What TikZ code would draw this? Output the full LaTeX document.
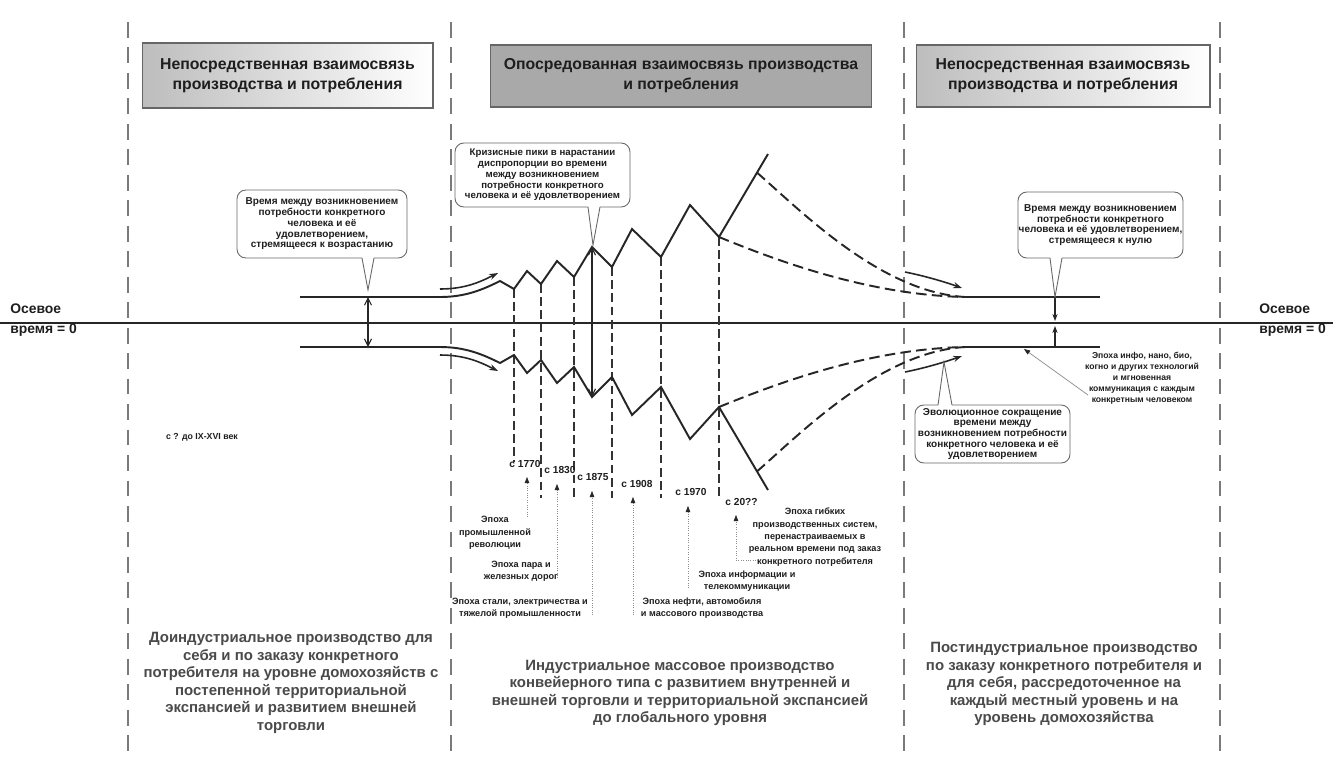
\documentclass[tikz,border=0pt]{standalone}
\usepackage{fontspec}
\setmainfont{Liberation Sans}
\usetikzlibrary{arrows.meta}
\definecolor{txt}{HTML}{1E1E1E}
\definecolor{secgray}{HTML}{7A7A7A}
\definecolor{botgray}{HTML}{4A4A4A}
\definecolor{hdrmid}{HTML}{A9A9A9}
\definecolor{hdrside}{HTML}{BDBDBD}
\definecolor{framegray}{HTML}{666666}
\begin{document}
\begin{tikzpicture}[x=0.02cm,y=-0.02cm,
  every node/.style={inner sep=0pt, text=txt},
  secline/.style={draw=secgray, line width=0.9pt, dash pattern=on 9pt off 5.5pt},
  epochline/.style={draw=black!80, line width=0.8pt, dash pattern=on 5pt off 2.5pt},
  bandline/.style={draw=black!85, line width=1.1pt, line join=miter},
  dashcurve/.style={draw=black!85, line width=1.1pt, dash pattern=on 6pt off 3pt},
  flowarrow/.style={draw=black!85, line width=0.9pt, -{Stealth[length=5pt,width=3.5pt]}},
  gaparrow/.style={draw=black!85, line width=0.6pt, {Straight Barb[length=4pt,width=4pt]}-{Straight Barb[length=4pt,width=4pt]}},
  toaxis/.style={draw=black!85, line width=0.6pt, -{Stealth[length=4pt,width=3pt]}},
  hdr/.style={draw=framegray, line width=0.6pt, align=center, font=\bfseries\fontsize{9}{11.3}\selectfont},
  callout/.style={draw=framegray, fill=white, rounded corners=5pt, line width=0.5pt, align=center, font=\bfseries\fontsize{5.7}{6.1}\selectfont},
  ptrline/.style={draw=framegray, line width=0.5pt},
  epochlabel/.style={align=center, font=\bfseries\fontsize{5.2}{7}\selectfont},
  datelabel/.style={anchor=west, font=\bfseries\fontsize{5.8}{7}\selectfont},
  leader/.style={draw=black!45, line width=0.35pt, densely dotted},
  leadtip/.style={-{Triangle[length=3.5pt,width=2.6pt,color=black!85]}},
  axislabel/.style={anchor=west, align=left, font=\bfseries\fontsize{7.9}{11.4}\selectfont},
  bottomtext/.style={align=center, text=botgray, font=\bfseries\fontsize{8.5}{10}\selectfont},
]
\useasboundingbox[fill=white] (0,0) rectangle (1333,765);

% section separators
\coordinate (s1t) at (128,22);  \coordinate (s1b) at (128,752);
\coordinate (s2t) at (451,22);  \coordinate (s2b) at (451,752);
\coordinate (s3t) at (904,22);  \coordinate (s3b) at (904,752);
\coordinate (s4t) at (1220,22); \coordinate (s4b) at (1220,752);
\draw[secline] (s1t) -- (s1b);
\draw[secline] (s2t) -- (s2b);
\draw[secline] (s3t) -- (s3b);
\draw[secline] (s4t) -- (s4b);

% headers
\node[hdr, minimum width=5.82cm, minimum height=1.3cm, left color=hdrside, right color=white] (h1) at (287.5,75.5)
  {Непосредственная взаимосвязь\\производства и потребления};
\node[hdr, minimum width=7.64cm, minimum height=1.24cm, fill=hdrmid] (h2) at (681,76)
  {Опосредованная взаимосвязь производства\\и потребления};
\node[hdr, minimum width=5.88cm, minimum height=1.24cm, left color=hdrside, right color=white] (h3) at (1063,76)
  {Непосредственная взаимосвязь\\производства и потребления};

% axis
\coordinate (axL) at (0,323); \coordinate (axR) at (1333,323);
\draw[black!85, line width=0.7pt] (axL) -- (axR);
\node[axislabel] (al) at (10,320) {Осевое\\время = 0};
\node[axislabel] (ar) at (1259,320) {Осевое\\время = 0};

% epoch dashed lines
\draw[epochline] (514,289) -- (514,462);
\draw[epochline] (541,284) -- (541,498);
\draw[epochline] (574,277) -- (574,498);
\draw[epochline] (612,267) -- (612,498);
\draw[epochline] (661,257) -- (661,498);
\draw[epochline] (719,237) -- (719,500);

% bands
\draw[bandline] (300,297) -- (440,297) .. controls (465,297) and (482,290) .. (500,281)
  -- (514,289) -- (527,271) -- (541,284) -- (557,261) -- (574,277) -- (592,247)
  -- (612,267) -- (632,229) -- (661,257) -- (690,205) -- (719,237) -- (768,154);
\draw[bandline] (300,347) -- (440,347) .. controls (465,347) and (482,354) .. (500,363)
  -- (514,355) -- (527,373) -- (541,360) -- (557,383) -- (574,367) -- (592,397)
  -- (612,377) -- (632,415) -- (661,387) -- (690,439) -- (719,407) -- (768,490);
\draw[dashcurve] (757,172.6) .. controls (800,210) and (880,292) .. (965,297);
\draw[dashcurve] (719,237) .. controls (780,262) and (870,295) .. (965,297);
\draw[dashcurve] (757,471.4) .. controls (800,434) and (880,352) .. (965,347);
\draw[dashcurve] (719,407) .. controls (780,382) and (870,349) .. (965,347);
\draw[bandline] (965,297) -- (1100,297);
\draw[bandline] (965,347) -- (1100,347);

% flow arrows
\draw[flowarrow] (440,289) .. controls (465,289) and (480,282) .. (498,273);
\draw[flowarrow] (440,355) .. controls (465,355) and (480,362) .. (498,371);
\draw[flowarrow] (905,272) .. controls (925,276) and (945,282) .. (962,288);
\draw[flowarrow] (905,372) .. controls (925,368) and (945,362) .. (962,356);

% gap arrows
\coordinate (gl1) at (368,297); \coordinate (gl2) at (368,347);
\draw[gaparrow] (gl1) -- (gl2);
\coordinate (gc1) at (592,247); \coordinate (gc2) at (592,397);
\draw[gaparrow] (gc1) -- (gc2);
\coordinate (gr1) at (1055,297); \coordinate (gr2) at (1055,347);
\coordinate (gr0) at (1055,321); \coordinate (gr3) at (1055,326);
\draw[toaxis] (gr1) -- (gr0);
\draw[toaxis] (gr2) -- (gr3);

% callouts
\node[callout, minimum width=3.4cm, minimum height=1.36cm] (c1) at (322,224)
  {Время между возникновением\\потребности конкретного\\человека и её\\удовлетворением,\\стремящееся к возрастанию};
\fill[white] (362,256.5) -- (368,290) -- (374,256.5) -- cycle;
\draw[ptrline] (362,258) -- (368,290) -- (374,258);

\node[callout, minimum width=3.5cm, minimum height=1.28cm, font=\bfseries\fontsize{5.5}{6.1}\selectfont] (c2) at (542.5,175)
  {Кризисные пики в нарастании\\диспропорции во времени\\между возникновением\\потребности конкретного\\человека и её удовлетворением};
\fill[white] (588,205.5) -- (593,245) -- (600,205.5) -- cycle;
\draw[ptrline] (588,207) -- (593,245) -- (600,207);

\node[callout, minimum width=3.3cm, minimum height=1.32cm] (c3) at (1100.5,225)
  {Время между возникновением\\потребности конкретного\\человека и её удовлетворением,\\стремящееся к нулю};
\fill[white] (1050,256.5) -- (1055,297) -- (1062,256.5) -- cycle;
\draw[ptrline] (1050,258) -- (1055,297) -- (1062,258);

\node[callout, minimum width=3.1cm, minimum height=1.16cm] (c4) at (992.5,434)
  {Эволюционное сокращение\\времени между\\возникновением потребности\\конкретного человека и её\\удовлетворением};
\fill[white] (938,406.5) -- (944,362) -- (952,406.5) -- cycle;
\draw[ptrline] (938,405) -- (944,362) -- (952,405);

% dates
\node[datelabel] (d1) at (509,464) {с 1770};
\node[datelabel] (d2) at (544,470) {с 1830};
\node[datelabel] (d3) at (577,477) {с 1875};
\node[datelabel] (d4) at (621,484) {с 1908};
\node[datelabel] (d5) at (675,492) {с 1970};
\node[datelabel] (d6) at (725,502) {с 20??};

% epoch labels
\node[epochlabel] (e1) at (495,533) {Эпоха\\промышленной\\революции};
\node[epochlabel] (e2) at (521,571) {Эпоха пара и\\железных дорог};
\node[epochlabel] (e3) at (520,608) {Эпоха стали, электричества и\\тяжелой промышленности};
\node[epochlabel] (e4) at (702,608) {Эпоха нефти, автомобиля\\и массового производства};
\node[epochlabel] (e5) at (747,581) {Эпоха информации и\\телекоммуникации};
\node[epochlabel] (e6) at (815,537) {Эпоха гибких\\производственных систем,\\перенастраиваемых в\\реальном времени под заказ\\конкретного потребителя};
\node[epochlabel, font=\bfseries\fontsize{4.9}{6.2}\selectfont] (e7) at (1142,378)
  {Эпоха инфо, нано, био,\\когно и других технологий\\и мгновенная\\коммуникация с каждым\\конкретным человеком};

% leaders
\draw[leader, leadtip] (527,517) -- (527,477);
\draw[leader, leadtip] (557,578) -- (557,484);
\draw[leader, leadtip] (592,615) -- (592,491);
\draw[leader, leadtip] (633,615) -- (633,497);
\draw[leader, leadtip] (688,588) -- (688,506);
\draw[leader, leadtip] (758,560) -- (736,560) -- (736,515);
\draw[draw=black!45, line width=0.4pt, leadtip] (1088,395) -- (1024,349);

\node[font=\bfseries\fontsize{5}{6}\selectfont] (pre) at (202,437) {с ? до IX-XVI век};

% bottom texts
\node[bottomtext] (b1) at (291,683)
  {Доиндустриальное производство для\\себя и по заказу конкретного\\потребителя на уровне домохозяйств с\\постепенной территориальной\\экспансией и развитием внешней\\торговли};
\node[bottomtext] (b2) at (680,693)
  {Индустриальное массовое производство\\конвейерного типа с развитием внутренней и\\внешней торговли и территориальной экспансией\\до глобального уровня};
\node[bottomtext] (b3) at (1064,684)
  {Постиндустриальное производство\\по заказу конкретного потребителя и\\для себя, рассредоточенное на\\каждый местный уровень и на\\уровень домохозяйства};
\end{tikzpicture}
\end{document}
